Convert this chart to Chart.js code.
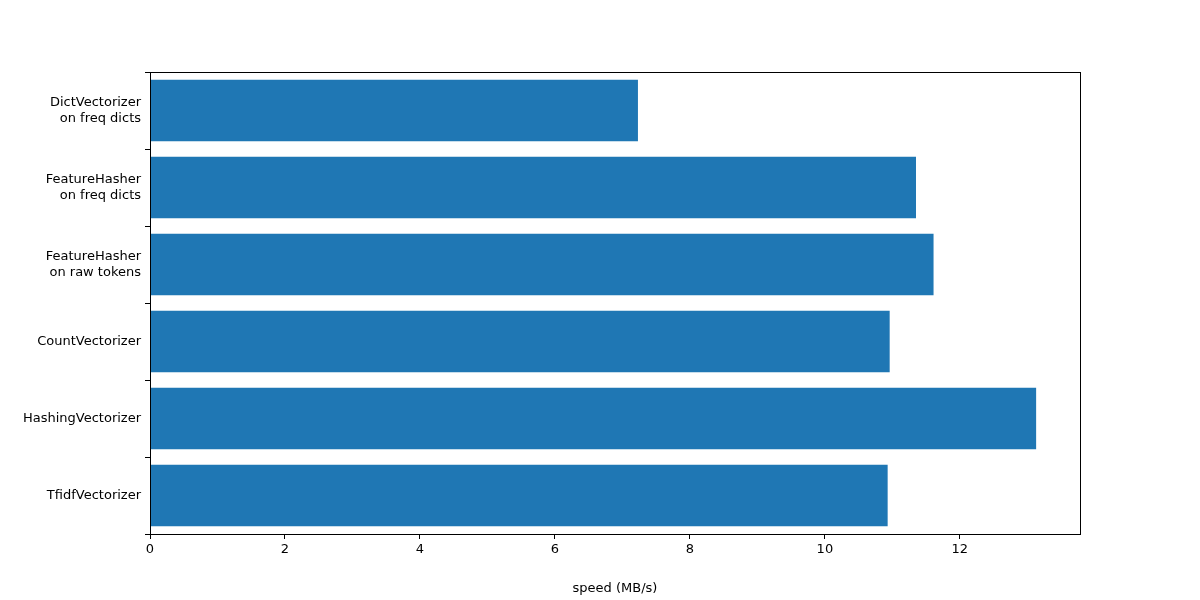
<!DOCTYPE html>
<html><head><meta charset="utf-8">
<script src="https://cdn.jsdelivr.net/npm/chart.js@4/dist/chart.umd.min.js"></script>
<style>html,body{margin:0;background:#fff}#w{width:1200px;height:600px}</style>
</head><body><div id="w"><canvas id="c"></canvas></div>
<script>
const categories = [["DictVectorizer","on freq dicts"],["FeatureHasher","on freq dicts"],["FeatureHasher","on raw tokens"],"CountVectorizer","HashingVectorizer","TfidfVectorizer"];
const speeds = [7.23, 11.35, 11.61, 10.96, 13.13, 10.93];
const xTicks = [0, 2, 4, 6, 8, 10, 12];
const xMax = 13.78;

const frame = {id:'frame', afterDraw(ch){const a=ch.chartArea,c=ch.ctx;c.save();c.strokeStyle='#000';c.lineWidth=1;c.strokeRect(Math.round(a.left)+0.5,Math.round(a.top)+0.5,Math.round(a.right-a.left),Math.round(a.bottom-a.top));c.restore();}};
Chart.defaults.font.family = "'DejaVu Sans'";
Chart.defaults.font.size = 13;
Chart.defaults.color = '#000';
new Chart(document.getElementById('c'), {
  type:'bar',
  data:{labels:categories, datasets:[{data:speeds, backgroundColor:'#1f77b4', barPercentage:0.8, categoryPercentage:1}]},
  options:{
    indexAxis:'y', responsive:true, maintainAspectRatio:false, animation:false,
    layout:{padding:{top:72, right:120, left:0, bottom:0}},
    plugins:{legend:{display:false}, tooltip:{enabled:false}},
    scales:{
      x:{min:0, max:xMax, afterBuildTicks:s=>{s.ticks=xTicks.map(v=>({value:v}));},
        grid:{drawOnChartArea:false, drawTicks:true, tickLength:5, color:'#000'},
        border:{color:'#000'}, ticks:{padding:3},
        title:{display:true, text:'speed (MB/s)', padding:{top:4}},
        afterFit:s=>{s.height=66;}},
      y:{grid:{drawOnChartArea:false, drawTicks:true, tickLength:5, color:'#000'},
        border:{color:'#000'}, ticks:{padding:4},
        afterFit:s=>{s.width=150;}}
    }
  },
  plugins:[frame]
});
</script></body></html>
